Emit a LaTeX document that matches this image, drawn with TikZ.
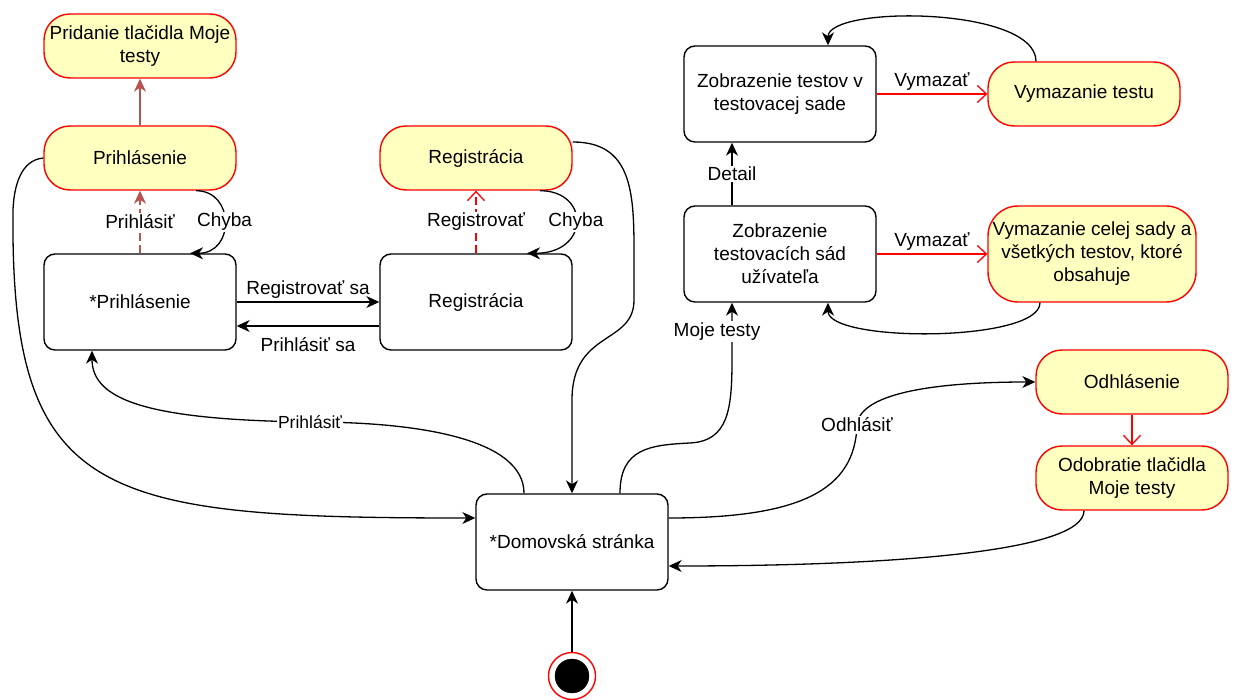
\documentclass[tikz,border=0pt]{standalone}
\usepackage{fontspec}
\setmainfont{Liberation Sans}
\usetikzlibrary{arrows.meta}
\definecolor{notefill}{HTML}{FFFFC0}
\definecolor{brick}{HTML}{B85450}
\begin{document}
\begin{tikzpicture}[x=1pt, y=-1pt,
		every node/.style={font=\fontsize{19}{23}\selectfont, text=black},
		state/.style={draw, line width=1.4pt, rounded corners=11pt, fill=white, align=center,
			minimum width=192pt, minimum height=96pt},
		note/.style={draw=red, line width=1.4pt, rounded corners=26pt, fill=notefill, align=center,
			minimum width=192pt, minimum height=64pt},
		lbl/.style={fill=white, inner sep=1.5pt},
		trans/.style={line width=1.3pt, -{Stealth[length=13pt, width=12pt, inset=4pt]}},
		redtrans/.style={line width=1.3pt, red, -{Straight Barb[length=9pt, width=17pt]}}]
		\useasboundingbox (0,0) rectangle (1237,700);

		% states
		\node [note] (pridanie) at (140,46) {Pridanie tlačidla Moje\\testy};
		\node [note] (prihlY) at (140,158) {Prihlásenie};
		\node [state] (prihl) at (140,302) {*Prihlásenie};
		\node [note] (regY) at (476,158) {Registrácia};
		\node [state] (reg) at (476,302) {Registrácia};
		\node [state] (domov) at (572,542) {*Domovská stránka};
		\node [state] (zt) at (780,94) {Zobrazenie testov v\\testovacej sade};
		\node [note] (vt) at (1084,94) {Vymazanie testu};
		\node [state] (zs) at (780,254) {Zobrazenie\\testovacích sád\\užívateľa};
		\node [note, minimum width=208pt, minimum height=96pt, rounded corners=30pt] (vs) at (1092,254)
			{Vymazanie celej sady a\\všetkých testov, ktoré\\obsahuje};
		\node [note] (odhl) at (1132,382) {Odhlásenie};
		\node [note] (odob) at (1132,478) {Odobratie tlačidla\\Moje testy};
		\node [circle, draw=red, line width=1.4pt, fill=white, minimum size=47pt, inner sep=0pt] (start) at (572,676) {};
		\node [circle, draw, fill=black, minimum size=34pt, inner sep=0pt] at (start) {};

		% login and registration
		\draw [trans, brick] (prihlY) -- (pridanie);
		\draw [trans, brick, dash pattern=on 8pt off 4pt] (prihl) -- node [lbl] {Prihlásiť} (prihlY);
		\draw [trans] ([xshift=56pt]prihlY.south) .. controls +(39,0) and +(45,0) .. node [lbl] {Chyba} ([xshift=50pt]prihl.north);
		\draw [trans] (prihl.east) -- node [above] {Registrovať sa} (reg.west);
		\draw [trans] ([yshift=-24pt]reg.west) -- node [below=8pt] {Prihlásiť sa} ([yshift=-24pt]prihl.east);
		\draw [redtrans, dash pattern=on 8pt off 4pt] (reg) -- node [lbl] {Registrovať} (regY);
		\draw [trans] ([xshift=64pt]regY.south) .. controls +(50,0) and +(63,0) .. node [lbl] {Chyba} ([xshift=51pt]reg.north);
		\draw [trans] ([yshift=16pt]regY.east) .. controls +(58,0) and +(0,-60) .. (634,250) -- (634,300)
			.. controls (634,345) and (572,330) .. (572,400) -- (domov.north);
		\draw [trans] (prihlY.west) .. controls +(-22,2) and +(1,-25) .. (13,210)
			.. controls +(-3,290) and +(-376,0) .. ([yshift=24pt]domov.west);
		\draw [trans] ([xshift=-48pt]domov.north) .. controls +(0,-54) and +(110,0) .. (310,422)
			node [lbl, font=\fontsize{17.5}{21}\selectfont] {Prihlásiť}
			.. controls +(-160,-2) and +(0,50) .. ([xshift=-48pt]prihl.south);

		% tests
		\draw [trans] ([xshift=48pt]domov.north) .. controls +(0,-45) and +(-40,2) .. (690,443)
			.. controls +(38,-2) and +(0,50) .. (732,360) -- node [lbl, xshift=-15pt] {Moje testy} ([xshift=-48pt]zs.south);
		\draw [trans] ([xshift=-48pt]zs.north) -- node [lbl] {Detail} ([xshift=-48pt]zt.south);
		\draw [redtrans] (zt) -- node [above] {Vymazať} (vt);
		\draw [redtrans] (zs) -- node [above] {Vymazať} (vs);
		\draw [trans] ([xshift=-48pt]vt.north) .. controls +(0,-55) and +(0,-40) .. ([xshift=48pt]zt.north);
		\draw [trans] ([xshift=-52pt]vs.south) .. controls +(0,40) and +(0,40) .. ([xshift=48pt]zs.south);

		% logout
		\draw [trans] ([yshift=24pt]domov.east) .. controls +(132,0) and +(-2,65) .. (857,425)
			node [lbl] {Odhlásiť}
			.. controls +(3,-35) and +(-86,0) .. (odhl.west);
		\draw [redtrans] (odhl) -- (odob);
		\draw [trans] ([xshift=-48pt]odob.south) .. controls +(0,40) and +(232,0) .. ([yshift=-24pt]domov.east);
		\draw [trans] (start) -- (domov);
	\end{tikzpicture}
\end{document}
